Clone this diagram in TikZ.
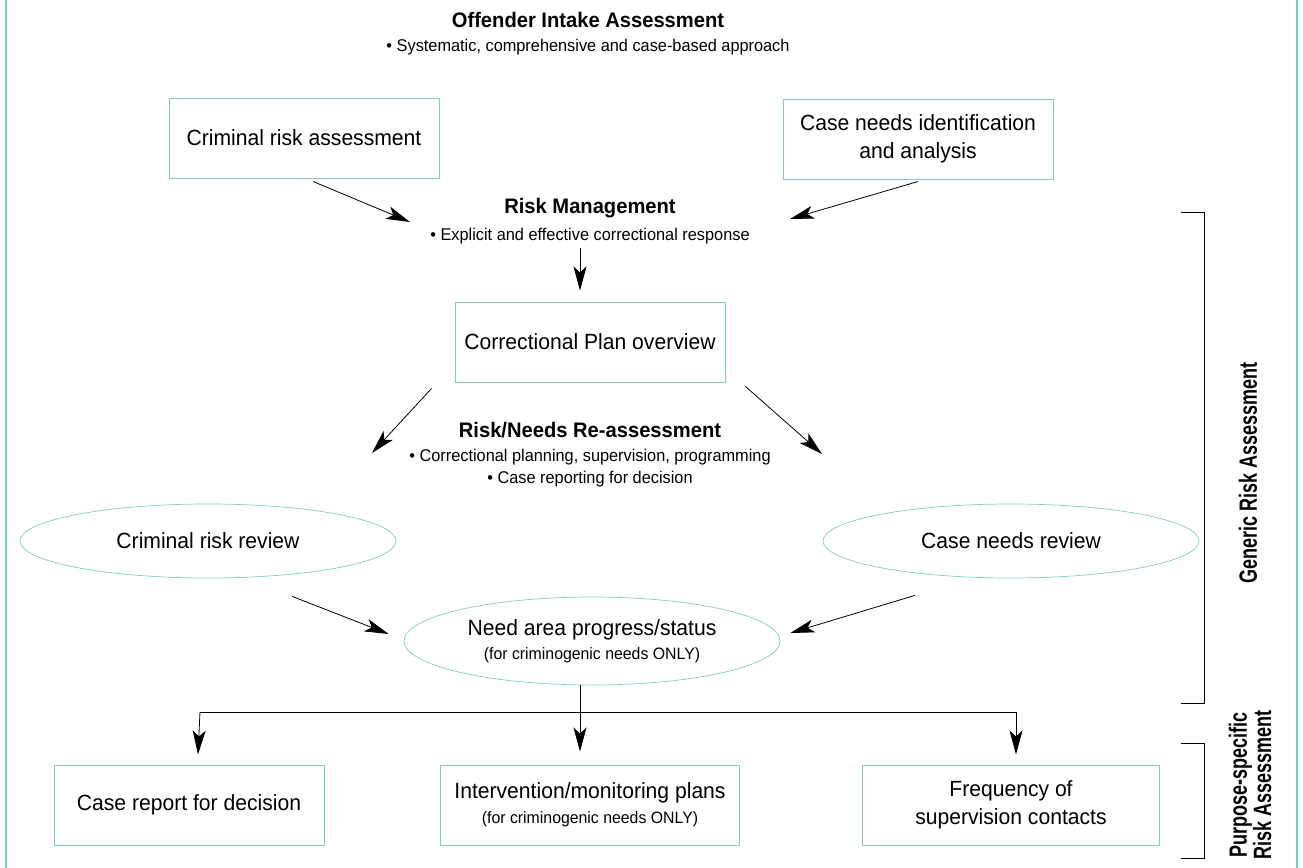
\documentclass[tikz,border=0pt]{standalone}
\usepackage{fontspec}
\setmainfont[FakeStretch=0.96]{Liberation Sans}
\newfontfamily\narrowbold[FakeStretch=0.72]{Liberation Sans}
\usetikzlibrary{arrows.meta,shapes.geometric,calc}
\definecolor{frteal}{RGB}{128,206,186}

\begin{document}
\begin{tikzpicture}[x=1pt,y=-1pt,
    box/.style={draw=frteal, line width=1pt, minimum width=270pt, minimum height=80pt,
      align=center, font=\fontsize{22}{28}\selectfont},
    oval/.style={ellipse, draw=frteal, line width=0.7pt, minimum width=376pt, minimum height=74pt,
      align=center, font=\fontsize{22}{26}\selectfont},
    head/.style={font=\fontsize{21}{25}\selectfont\bfseries},
    bullet/.style={font=\fontsize{17}{22}\selectfont, align=center},
    arr/.style={-{Stealth[length=24pt,width=13pt,inset=6pt]}, line width=0.8pt},
    side/.style={rotate=90, align=center, font=\fontsize{25}{22}\selectfont\narrowbold\bfseries}]
  \useasboundingbox (0,0) rectangle (1303,867);

  % Frame
  \draw[frteal, line width=1.5pt] (6,-5) -- (6,872);
  \draw[frteal, line width=1.5pt] (1297,-5) -- (1297,872);

  % Intake
  \node[head] (intake) at (588,20) {Offender Intake Assessment};
  \node[bullet] (intakeb) at (588,47) {\textbullet\ Systematic, comprehensive and case-based approach};
  \node[box] (crisk) at (304,138) {Criminal risk assessment};
  \node[box] (cneeds) at (918,139) {Case needs identification\\and analysis};

  % Risk management
  \node[head] (rm) at (590,208) {Risk Management};
  \node[bullet] (rmb) at (590,236) {\textbullet\ Explicit and effective correctional response};
  \coordinate (rmL) at (410,222);
  \coordinate (rmR) at (790,219);
  \coordinate (rmD) at (580,248);
  \node[box] (plan) at (590,342) {Correctional Plan overview};

  % Re-assessment
  \node[head] (rn) at (590,430) {Risk/Needs Re-assessment};
  \node[bullet] (rnb) at (590,468) {\textbullet\ Correctional planning, supervision, programming\\\textbullet\ Case reporting for decision};
  \coordinate (rnL) at (372,453);
  \coordinate (rnR) at (822,454);
  \node[oval] (crev) at (208,541) {Criminal risk review};
  \node[oval] (nrev) at (1011,541) {Case needs review};
  \node[oval, minimum height=88pt] (prog) at (592,641) {Need area progress/status\\[-2pt]{\fontsize{16.5}{18}\selectfont (for criminogenic needs ONLY)}};

  % Purpose-specific outputs
  \node[box] (report) at (189,805) {Case report for decision};
  \node[box, minimum width=299pt] (plans) at (590,805) {Intervention/monitoring plans\\[-3pt]{\fontsize{16.5}{18}\selectfont (for criminogenic needs ONLY)}};
  \node[box, minimum width=297pt] (freq) at (1011,805) {Frequency of\\supervision contacts};
  \coordinate (split) at (580,712);
  \coordinate (splitL) at (200,712);
  \coordinate (splitR) at (1016,712);

  % Connectors
  \draw[arr] ($(crisk.south)+(9,3)$) -- (rmL);
  \draw[arr] ($(cneeds.south)+(0,2)$) -- (rmR);
  \draw[arr] (rmD) -- ($(plan.north -| rmD)+(0,-11)$);
  \draw[arr] ($(plan.south west)+(-23,6)$) -- (rnL);
  \draw[arr] ($(plan.south east)+(20,4)$) -- (rnR);
  \draw[arr] ($(crev.south)+(84,18)$) -- ($(prog.west)+(-15,-7)$);
  \draw[arr] ($(nrev.south)+(-96,17)$) -- ($(prog.east)+(10,-8)$);
  \draw[line width=0.8pt] (splitL) -- (splitR);
  \draw[arr] (prog.south -| split) -- ($(plans.north -| split)+(0,-13)$);
  \draw[arr] (splitL) -- ($(report.north)+(9,-10)$);
  \draw[arr] (splitR) -- ($(freq.north -| splitR)+(0,-10)$);

  % Brackets
  \draw[line width=0.8pt] (1181,212) -- (1204,212) -- (1204,703) -- (1181,703);
  \draw[line width=0.8pt] (1181,743) -- (1204,743) -- (1204,858) -- (1181,858);
  \node[side] (generic) at (1248,473) {Generic Risk Assessment};
  \node[side] (purpose) at (1250,785) {Purpose-specific\\Risk Assessment};
\end{tikzpicture}
\end{document}
